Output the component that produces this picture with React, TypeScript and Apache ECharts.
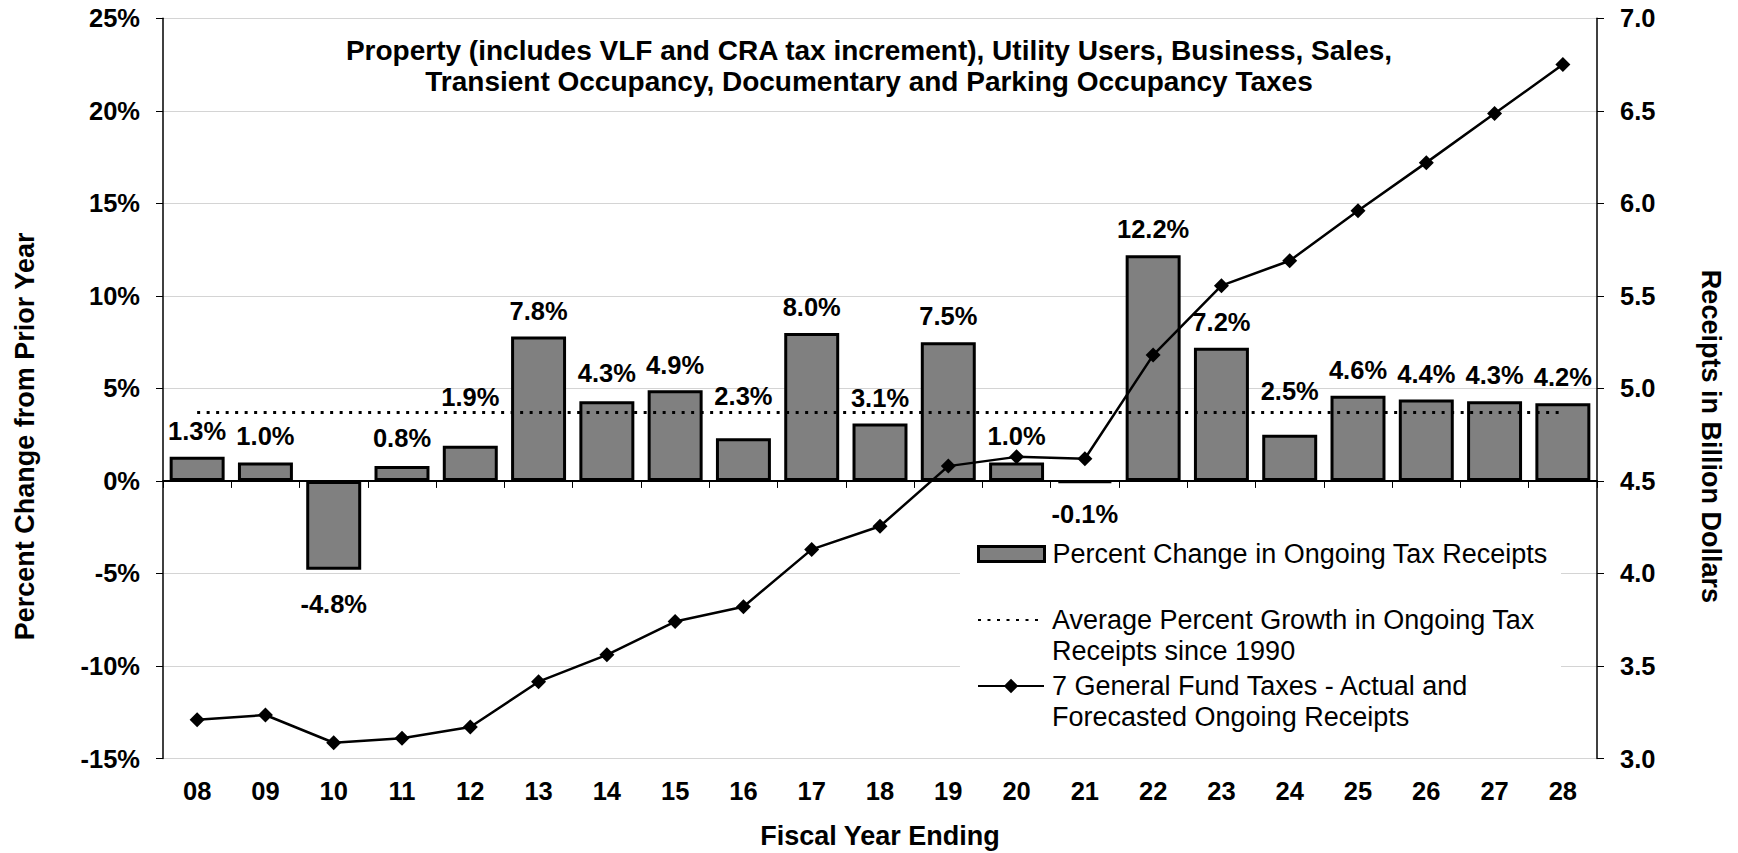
import React, { useEffect, useRef } from "react";
import * as echarts from "echarts";

// ---- data ----
const years = ["08", "09", "10", "11", "12", "13", "14", "15", "16", "17", "18", "19", "20", "21", "22", "23", "24", "25", "26", "27", "28"];
const pctChange = [1.3, 1.0, -4.8, 0.8, 1.9, 7.8, 4.3, 4.9, 2.3, 8.0, 3.1, 7.5, 1.0, -0.1, 12.2, 7.2, 2.5, 4.6, 4.4, 4.3, 4.2];
const avgGrowth = [3.7, 3.7, 3.7, 3.7, 3.7, 3.7, 3.7, 3.7, 3.7, 3.7, 3.7, 3.7, 3.7, 3.7, 3.7, 3.7, 3.7, 3.7, 3.7, 3.7, 3.7];
const receipts = [3.21, 3.235, 3.085, 3.11, 3.17, 3.415, 3.56, 3.74, 3.82, 4.13, 4.255, 4.58, 4.63, 4.62, 5.18, 5.555, 5.69, 5.96, 6.22, 6.485, 6.75];
const leftAxis = { min: -15, max: 25, step: 5 };
const rightAxis = { min: 3.0, max: 7.0, step: 0.5 };

const BAR_NAME = "Percent Change in Ongoing Tax Receipts";
const AVG_NAME = "Average Percent Growth in Ongoing Tax Receipts since 1990";
const LINE_NAME = "7 General Fund Taxes - Actual and Forecasted Ongoing Receipts";
const TITLE = "Property (includes VLF and CRA tax increment), Utility Users, Business, Sales,\nTransient Occupancy, Documentary and Parking Occupancy Taxes";

// label vertical nudges (style only)
const labelNudge = [0, 0, 8.5, -2, -23, 0, -2, 1, -16, 0, 0, 0, 0, 4.5, 0, 0, -17.5, 0, 0, 0, 0];

const FONT = '"Liberation Sans", Arial, sans-serif';

export default function App() {
  const ref = useRef<HTMLDivElement>(null);

  useEffect(() => {
    if (!ref.current) return;
    const chart = echarts.init(ref.current, undefined, { renderer: "svg" });

    const bold = { fontFamily: FONT, fontSize: 25.5, fontWeight: "bold" as const, color: "#000" };
    const nameStyle = { ...bold, fontSize: 27 };
    const legendBase = {
      orient: "vertical" as const,
      left: 977,
      padding: 0,
      itemWidth: 66,
      itemHeight: 15,
      selectedMode: false,
    };
    const legendText = { fontFamily: FONT, fontSize: 27, color: "#000", lineHeight: 31, padding: [0, 0, 0, 3] };

    chart.setOption({
      animation: false,
      backgroundColor: "#fff",
      textStyle: { fontFamily: FONT },
      title: {
        text: TITLE,
        left: "center",
        top: 34.5,
        padding: 0,
        textStyle: { ...bold, fontSize: 28, lineHeight: 31 },
      },
      grid: {
        left: 163,
        right: 141,
        top: 18.3,
        bottom: 94.5,
        containLabel: false,
        outerBoundsMode: "none",
      },
      graphic: [
        {
          type: "rect",
          z: 1,
          silent: true,
          shape: { x: 960, y: 525, width: 601, height: 215 },
          style: { fill: "#fff" },
        },
      ],
      legend: [
        {
          ...legendBase,
          top: 538.5,
          data: [
            {
              name: BAR_NAME,
              icon: "rect",
              itemStyle: { color: "#808080", borderColor: "#000", borderWidth: 3 },
            },
          ],
          textStyle: legendText,
        },
        {
          ...legendBase,
          top: 573.5,
          data: [
            {
              name: AVG_NAME,
              itemStyle: { color: "rgba(0,0,0,0)", borderColor: "rgba(0,0,0,0)", opacity: 0 },
            },
          ],
          formatter: () => "\nAverage Percent Growth in Ongoing Tax\nReceipts since 1990",
          textStyle: legendText,
        },
        {
          ...legendBase,
          itemHeight: 18,
          top: 639.5,
          data: [LINE_NAME],
          formatter: () => "\n7 General Fund Taxes - Actual and\nForecasted Ongoing Receipts",
          textStyle: legendText,
        },
      ],
      xAxis: [
        {
          type: "category",
          data: years,
          position: "bottom",
          axisLine: { show: false, onZero: false },
          axisTick: { show: false },
          axisLabel: { interval: 0, margin: 19, ...bold },
          splitLine: { show: false },
          name: "Fiscal Year Ending",
          nameLocation: "middle",
          nameGap: 64,
          nameTextStyle: nameStyle,
        },
        {
          type: "category",
          data: years,
          position: "top",
          axisLine: { show: true, onZero: true, onZeroAxisIndex: 0, lineStyle: { color: "#000", width: 2 } },
          axisTick: { show: true, inside: true, length: 7, lineStyle: { color: "#000", width: 1 } },
          axisLabel: { show: false },
          splitLine: { show: false },
        },
      ],
      yAxis: [
        {
          type: "value",
          position: "left",
          min: leftAxis.min,
          max: leftAxis.max,
          interval: leftAxis.step,
          axisLine: { show: true, lineStyle: { color: "#000", width: 1.5 } },
          axisTick: { show: true, length: 7, lineStyle: { color: "#000", width: 1 } },
          axisLabel: { margin: 23, formatter: (v: number) => `${v}%`, ...bold },
          splitLine: { show: true, lineStyle: { color: "#d4d4d4", width: 1 } },
          name: "Percent Change from Prior Year",
          nameLocation: "middle",
          nameRotate: 90,
          nameGap: 125,
          nameTextStyle: { ...nameStyle, padding: [0, 96, 0, 0] },
        },
        {
          type: "value",
          position: "right",
          min: rightAxis.min,
          max: rightAxis.max,
          interval: rightAxis.step,
          axisLine: { show: true, lineStyle: { color: "#000", width: 1.5 } },
          axisTick: { show: true, length: 7, lineStyle: { color: "#000", width: 1 } },
          axisLabel: { margin: 23, formatter: (v: number) => v.toFixed(1), ...bold },
          splitLine: { show: false },
          name: "Receipts in Billion Dollars",
          nameLocation: "middle",
          nameRotate: -90,
          nameGap: 100,
          nameTextStyle: { ...nameStyle, padding: [0, 0, 0, 96] },
        },
      ],
      series: [
        {
          name: BAR_NAME,
          type: "bar",
          xAxisIndex: 0,
          yAxisIndex: 0,
          barWidth: "80.5%",
          itemStyle: { color: "#808080", borderColor: "#000", borderWidth: 3 },
          label: {
            show: true,
            distance: 13,
            formatter: (p: any) => `${Number(p.value).toFixed(1)}%`,
            ...bold,
          },
          data: pctChange.map((v, i) => ({
            value: v,
            // a bar thinner than its outline shows as solid black, as in the original
            itemStyle: Math.abs(v) < 0.5 ? { color: "#000" } : undefined,
            label: { position: v < 0 ? "bottom" : "top", offset: [0, labelNudge[i]] },
          })),
          z: 2,
        },
        {
          name: AVG_NAME,
          type: "line",
          xAxisIndex: 0,
          yAxisIndex: 0,
          data: avgGrowth,
          symbol: "none",
          showSymbol: false,
          lineStyle: { color: "#000", width: 3, type: [3, 6.5] },
          itemStyle: { color: "#000" },
          z: 3,
        },
        {
          name: LINE_NAME,
          type: "line",
          xAxisIndex: 0,
          yAxisIndex: 1,
          data: receipts,
          symbol: "diamond",
          symbolSize: 15,
          lineStyle: { color: "#000", width: 2.5 },
          itemStyle: { color: "#000" },
          z: 4,
        },
      ],
    });

    return () => chart.dispose();
  }, []);

  return (
    <div
      ref={ref}
      style={{ position: "fixed", left: 0, top: 0, width: 1738, height: 853, background: "#fff" }}
    />
  );
}
